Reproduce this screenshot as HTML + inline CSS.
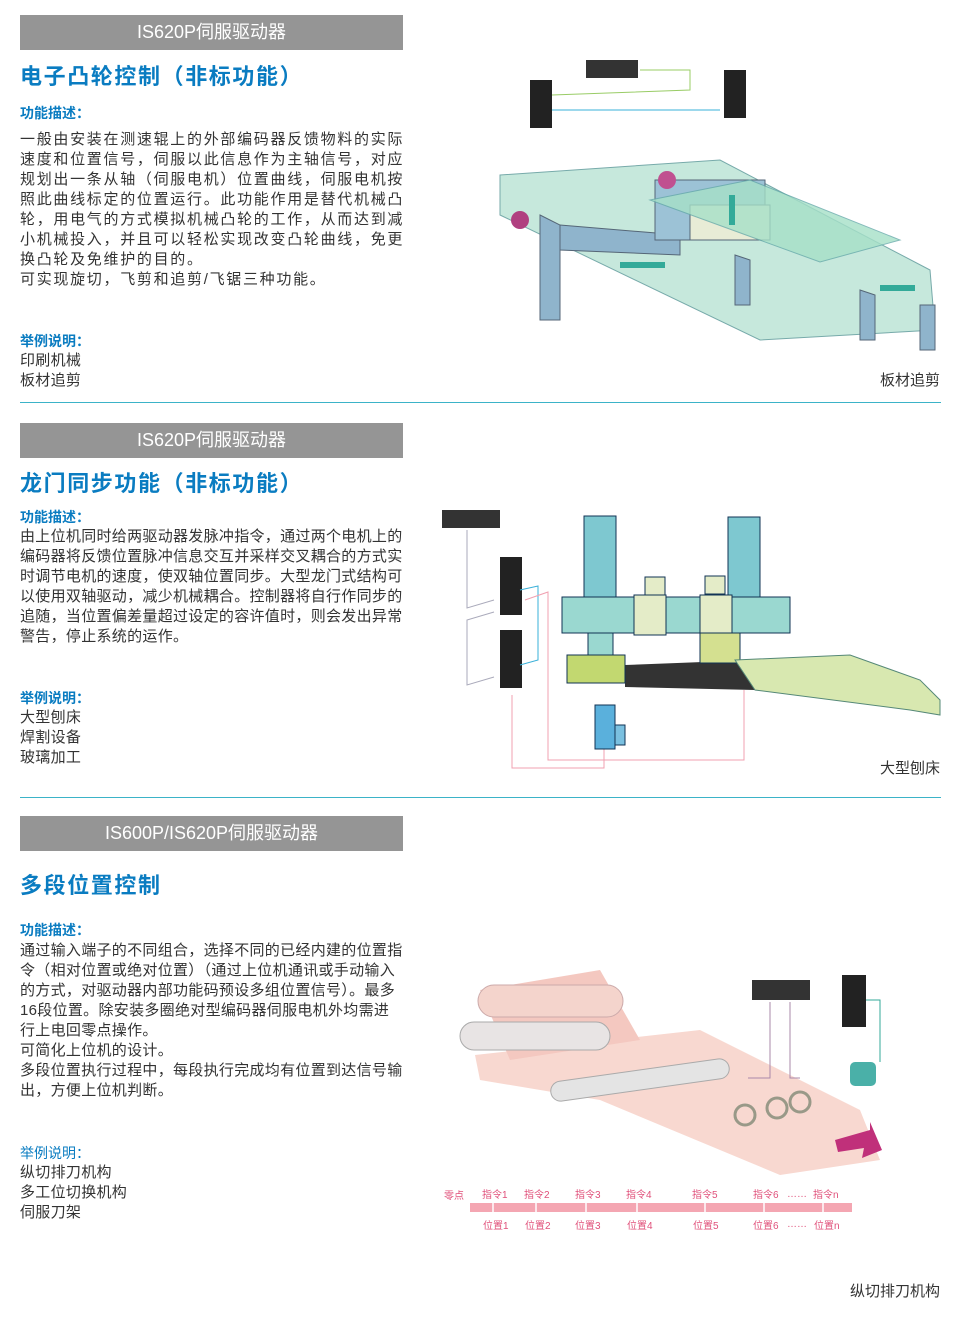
<!DOCTYPE html>
<html><head><meta charset="utf-8"><style>
*{margin:0;padding:0}
body{width:960px;height:1320px;position:relative;background:#fff;font-family:"Liberation Sans","Noto Sans CJK SC",sans-serif;overflow:hidden}
.h{position:absolute;left:20px;width:383px;height:35px;background:#959595;color:#fff;font-size:18px;line-height:35px;text-align:center}
.t{position:absolute;left:20px;color:#0a7cc1;font-size:22px;font-weight:bold;letter-spacing:1.6px;line-height:30px}
.s{position:absolute;left:20px;color:#0a7cc1;font-size:14px;font-weight:bold;line-height:20px}
.b{position:absolute;left:20px;color:#333;font-size:15px;letter-spacing:0.3px;line-height:20px;white-space:nowrap}
.w{letter-spacing:1.7px}
.c{position:absolute;right:20px;color:#333;font-size:15px;line-height:20px}
.d{position:absolute;left:20px;width:921px;height:1px;background:#3bb3c8}
svg{position:absolute;left:0;top:0}
</style></head><body>
<div class="h" style="top:15px">IS620P伺服驱动器</div>
<div class="t" style="top:62px">电子凸轮控制（非标功能）</div>
<div class="s" style="top:103px">功能描述：</div>
<div class="b w" style="top:130px">一般由安装在测速辊上的外部编码器反馈物料的实际</div>
<div class="b w" style="top:150px">速度和位置信号，伺服以此信息作为主轴信号，对应</div>
<div class="b w" style="top:170px">规划出一条从轴（伺服电机）位置曲线，伺服电机按</div>
<div class="b w" style="top:190px">照此曲线标定的位置运行。此功能作用是替代机械凸</div>
<div class="b w" style="top:210px">轮，用电气的方式模拟机械凸轮的工作，从而达到减</div>
<div class="b w" style="top:230px">小机械投入，并且可以轻松实现改变凸轮曲线，免更</div>
<div class="b w" style="top:250px">换凸轮及免维护的目的。</div>
<div class="b w" style="top:270px">可实现旋切，飞剪和追剪/飞锯三种功能。</div>
<div class="s" style="top:331px">举例说明：</div>
<div class="b" style="top:351px">印刷机械</div>
<div class="b" style="top:371px">板材追剪</div>
<div class="c" style="top:371px">板材追剪</div>
<div class="d" style="top:402px"></div>

<div class="h" style="top:423px">IS620P伺服驱动器</div>
<div class="t" style="top:469px">龙门同步功能（非标功能）</div>
<div class="s" style="top:507px">功能描述：</div>
<div class="b" style="top:527px">由上位机同时给两驱动器发脉冲指令，通过两个电机上的</div>
<div class="b" style="top:547px">编码器将反馈位置脉冲信息交互并采样交叉耦合的方式实</div>
<div class="b" style="top:567px">时调节电机的速度，使双轴位置同步。大型龙门式结构可</div>
<div class="b" style="top:587px">以使用双轴驱动，减少机械耦合。控制器将自行作同步的</div>
<div class="b" style="top:607px">追随，当位置偏差量超过设定的容许值时，则会发出异常</div>
<div class="b" style="top:627px">警告，停止系统的运作。</div>
<div class="s" style="top:688px">举例说明：</div>
<div class="b" style="top:708px">大型刨床</div>
<div class="b" style="top:728px">焊割设备</div>
<div class="b" style="top:748px">玻璃加工</div>
<div class="c" style="top:759px">大型刨床</div>
<div class="d" style="top:797px"></div>

<div class="h" style="top:816px">IS600P/IS620P伺服驱动器</div>
<div class="t" style="top:871px">多段位置控制</div>
<div class="s" style="top:920px">功能描述：</div>
<div class="b" style="top:941px">通过输入端子的不同组合，选择不同的已经内建的位置指</div>
<div class="b" style="top:961px">令（相对位置或绝对位置）（通过上位机通讯或手动输入</div>
<div class="b" style="top:981px">的方式，对驱动器内部功能码预设多组位置信号）。最多</div>
<div class="b" style="top:1001px">16段位置。除安装多圈绝对型编码器伺服电机外均需进</div>
<div class="b" style="top:1021px">行上电回零点操作。</div>
<div class="b" style="top:1041px">可简化上位机的设计。</div>
<div class="b" style="top:1061px">多段位置执行过程中，每段执行完成均有位置到达信号输</div>
<div class="b" style="top:1081px">出，方便上位机判断。</div>
<div class="s" style="top:1143px;font-weight:normal">举例说明：</div>
<div class="b" style="top:1163px">纵切排刀机构</div>
<div class="b" style="top:1183px">多工位切换机构</div>
<div class="b" style="top:1203px">伺服刀架</div>
<div class="c" style="top:1282px">纵切排刀机构</div>

<svg width="960" height="1320" viewBox="0 0 960 1320">
<g>
<polygon points="500,175 720,160 930,270 935,330 760,340 500,215" fill="#c6e8dc" stroke="#7aa" stroke-width="1"/>
<polygon points="540,215 560,225 560,320 540,320" fill="#8fb4cc" stroke="#567"/>
<polygon points="735,255 750,260 750,305 735,305" fill="#8fb4cc" stroke="#567"/>
<polygon points="860,290 875,295 875,340 860,340" fill="#8fb4cc" stroke="#567"/>
<polygon points="920,305 935,305 935,350 920,350" fill="#8fb4cc" stroke="#567"/>
<polygon points="560,225 680,235 680,255 560,250" fill="#8fb4cc" stroke="#567"/>
<rect x="655" y="180" width="110" height="60" fill="#9cc2d6" stroke="#567"/>
<rect x="690" y="205" width="80" height="35" fill="#e8ecd6" stroke="#567"/>
<polygon points="650,200 750,180 900,240 820,262" fill="#a6e0c8" stroke="#6aa" opacity=".8"/>
<rect x="530" y="80" width="22" height="48" fill="#222"/>
<rect x="586" y="60" width="52" height="18" fill="#333"/>
<rect x="724" y="70" width="22" height="48" fill="#222"/>
<polyline points="552,110 720,110" fill="none" stroke="#3ab0d8"/>
<polyline points="552,95 690,90 690,70 640,70" fill="none" stroke="#9c6"/>
<circle cx="520" cy="220" r="9" fill="#b04080"/>
<circle cx="667" cy="180" r="9" fill="#c05090"/>
<polygon points="620,262 665,262 665,268 620,268" fill="#3a9"/>
<polygon points="880,285 915,285 915,291 880,291" fill="#3a9"/>
<rect x="729" y="195" width="6" height="30" fill="#3a9"/>
</g>
<g>
<rect x="442" y="510" width="58" height="18" fill="#333"/>
<rect x="500" y="557" width="22" height="58" fill="#222"/>
<rect x="500" y="630" width="22" height="58" fill="#222"/>
<polyline points="467,530 467,608 494,600" fill="none" stroke="#aab" />
<polyline points="494,612 467,620 467,685 494,677" fill="none" stroke="#aab"/>
<polyline points="520,590 538,586 538,660 520,665" fill="none" stroke="#3ab0d8"/>
<polyline points="525,600 548,592 548,760 744,760 744,690" fill="none" stroke="#f0a0b0"/>
<polyline points="512,695 512,768 604,768 604,745" fill="none" stroke="#f0a0b0"/>
<rect x="584" y="516" width="32" height="82" fill="#7ec8d0" stroke="#135"/>
<rect x="728" y="517" width="32" height="80" fill="#7ec8d0" stroke="#135"/>
<rect x="562" y="597" width="228" height="36" fill="#9ad8d0" stroke="#135"/>
<rect x="634" y="595" width="32" height="40" fill="#e4ecc8" stroke="#135"/>
<rect x="700" y="595" width="32" height="40" fill="#e4ecc8" stroke="#135"/>
<rect x="645" y="577" width="20" height="18" fill="#e4ecc8" stroke="#135"/>
<rect x="705" y="576" width="20" height="18" fill="#e4ecc8" stroke="#135"/>
<rect x="588" y="633" width="25" height="30" fill="#9ad8d0" stroke="#135"/>
<polygon points="625,665 755,660 755,690 625,687" fill="#333"/>
<rect x="567" y="655" width="58" height="28" fill="#c2d870" stroke="#135"/>
<rect x="700" y="633" width="40" height="30" fill="#d4e090" stroke="#135"/>
<polygon points="735,660 850,655 920,680 940,700 940,715 910,710 755,690" fill="#d8e8b0" stroke="#587"/>
<rect x="595" y="705" width="20" height="44" fill="#5ab0dc" stroke="#135"/>
<rect x="615" y="725" width="10" height="20" fill="#7ac0e0" stroke="#135"/>
</g>
<g>
<polygon points="475,1055 700,1030 860,1110 880,1160 780,1175 600,1100 480,1080" fill="#f8d8d0"/>
<polygon points="480,990 600,970 640,1040 510,1060" fill="#f4c8c0"/>
<rect x="478" y="985" width="145" height="32" rx="16" fill="#f4d4cc" stroke="#caa"/>
<rect x="460" y="1022" width="150" height="28" rx="14" fill="#e8e4e4" stroke="#aaa"/>
<rect x="550" y="1070" width="180" height="20" rx="10" fill="#e4e4e4" stroke="#aaa" transform="rotate(-8 640 1080)"/>
<rect x="752" y="980" width="58" height="20" fill="#333"/>
<rect x="842" y="975" width="24" height="52" fill="#222"/>
<rect x="850" y="1062" width="26" height="24" rx="5" fill="#4ab0a8"/>
<polyline points="866,1000 880,1000 880,1062" fill="none" stroke="#3a9"/>
<polyline points="790,1002 790,1078 800,1078" fill="none" stroke="#a8a"/>
<polyline points="770,1002 770,1078 748,1078" fill="none" stroke="#a8a"/>
<circle cx="745" cy="1115" r="10" fill="none" stroke="#998" stroke-width="3"/>
<circle cx="777" cy="1108" r="10" fill="none" stroke="#998" stroke-width="3"/>
<circle cx="800" cy="1102" r="10" fill="none" stroke="#998" stroke-width="3"/>
<polygon points="835,1140 870,1130 870,1122 882,1150 862,1158 864,1148 838,1152" fill="#c0307a"/>
<rect x="470" y="1203" width="382" height="9" fill="#f4a6b2"/>
<g stroke="#fff" stroke-width="1.5">
<line x1="493" y1="1203" x2="493" y2="1212"/><line x1="536" y1="1203" x2="536" y2="1212"/>
<line x1="586" y1="1203" x2="586" y2="1212"/><line x1="637" y1="1203" x2="637" y2="1212"/>
<line x1="705" y1="1203" x2="705" y2="1212"/><line x1="764" y1="1203" x2="764" y2="1212"/>
<line x1="823" y1="1203" x2="823" y2="1212"/>
</g>
<g fill="#e0507a" font-family="Liberation Sans,Noto Sans CJK SC,sans-serif" font-size="10">
<text x="444" y="1199">零点</text>
<text x="482" y="1198">指令1</text><text x="524" y="1198">指令2</text><text x="575" y="1198">指令3</text>
<text x="626" y="1198">指令4</text><text x="692" y="1198">指令5</text><text x="753" y="1198">指令6</text>
<text x="787" y="1197">……</text><text x="813" y="1198">指令n</text>
<text x="483" y="1229">位置1</text><text x="525" y="1229">位置2</text><text x="575" y="1229">位置3</text>
<text x="627" y="1229">位置4</text><text x="693" y="1229">位置5</text><text x="753" y="1229">位置6</text>
<text x="787" y="1227">……</text><text x="814" y="1229">位置n</text>
</g>
</svg>
</body></html>
